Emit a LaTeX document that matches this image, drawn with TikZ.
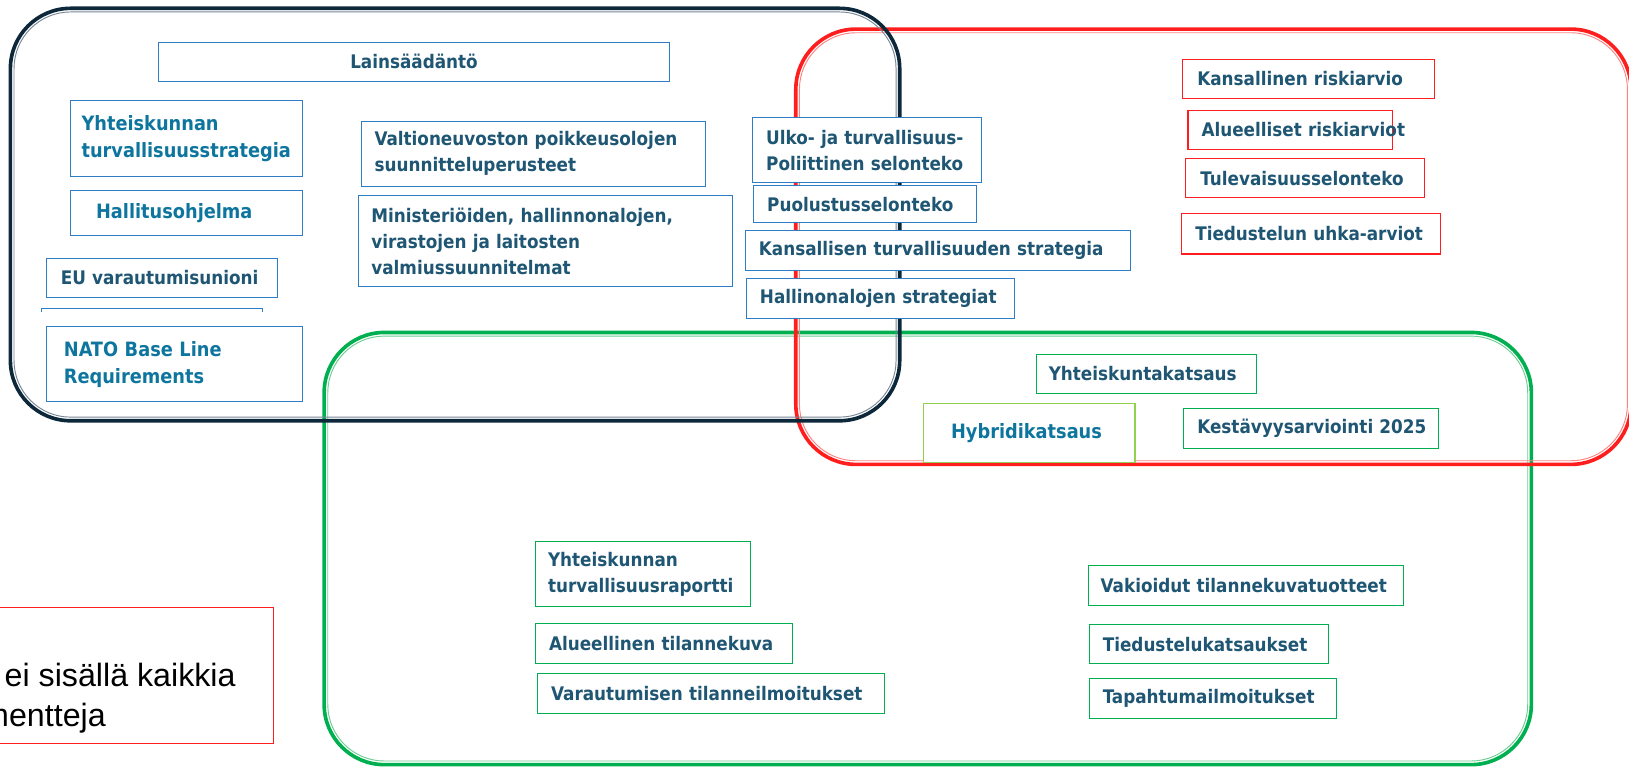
\documentclass[tikz,border=0pt]{standalone}
\usepackage{fontspec}
\newfontfamily\boxfont{DejaVu Sans Condensed}
\newfontfamily\arialf{Liberation Sans}
\definecolor{tdark}{RGB}{31,86,115}
\definecolor{tbright}{RGB}{14,118,158}
\definecolor{bluebox}{RGB}{46,125,196}
\definecolor{redbox}{RGB}{255,30,30}
\definecolor{greenbox}{RGB}{0,176,80}
\definecolor{lgreen}{RGB}{146,208,80}
\definecolor{frameblack}{RGB}{12,40,58}
\definecolor{frameblackin}{RGB}{120,135,150}
\definecolor{frameredin}{RGB}{255,130,130}
\definecolor{framegreenin}{RGB}{110,205,145}
\begin{document}
\begin{tikzpicture}[x=1pt,y=-1pt,
  bb/.style={draw=#1, line width=1pt, fill=white, anchor=north west, align=left,
    inner ysep=0pt, font=\boxfont\bfseries\fontsize{18}{25}\selectfont, text=tdark},
  bright/.style={text=tbright, font=\boxfont\bfseries\fontsize{19}{26}\selectfont},
  outerframe/.style={line width=3.5pt, rounded corners=58pt},
  innerframe/.style={line width=0.9pt, rounded corners=54.5pt}]
\useasboundingbox (0,0) rectangle (1568,739);
\clip (0,0) rectangle (1568,739);
\fill[white] (0,0) rectangle (1568,739);

% green frame
\draw[outerframe, draw=greenbox] (312,320) rectangle (1474,736);
\draw[innerframe, draw=framegreenin] (315.5,323.5) rectangle (1470.5,732.5);
% red frame
\draw[outerframe, draw=redbox] (766,28) rectangle (1570,447);
\draw[innerframe, draw=frameredin] (769.5,31.5) rectangle (1566.5,443.5);
% black frame
\draw[outerframe, draw=frameblack] (10,8) rectangle (866,405);
\draw[innerframe, draw=frameblackin] (13.5,11.5) rectangle (862.5,401.5);

% blue boxes
\node[bb=bluebox, align=center, minimum width=492pt, minimum height=38pt, inner xsep=11pt, text width=470pt] (lain) at (152,40) {Lains\"a\"ad\"ant\"o};
\node[bb=bluebox, bright, minimum width=224pt, minimum height=73pt, inner xsep=11pt, text width=202pt] (yts) at (67,96) {Yhteiskunnan\\turvallisuusstrategia};
\node[bb=bluebox, bright, minimum width=224pt, minimum height=43pt, inner xsep=25pt, text width=174pt] (hal) at (67,183) {Hallitusohjelma};
\node[bb=bluebox, minimum width=223pt, minimum height=38pt, inner xsep=14pt, text width=195pt] (eu) at (44,248) {EU~varautumisunioni};
\draw[bluebox, line width=1pt] (40,300) -- (40,297) coordinate (lt) -- (253,297) coordinate (rt) -- (253,300);
\node[bb=bluebox, bright, minimum width=247pt, minimum height=72pt, inner xsep=17pt, text width=213pt] (nato) at (44,314) {NATO~Base~Line\\Requirements};
\node[bb=bluebox, minimum width=332pt, minimum height=63pt, inner xsep=13pt, text width=306pt] (valt) at (347,116) {Valtioneuvoston~poikkeusolojen\\suunnitteluperusteet};
\node[bb=bluebox, minimum width=360pt, minimum height=87pt, inner xsep=12pt, text width=336pt] (min) at (345,188) {Ministeri\"oiden,~hallinnonalojen,\\virastojen~ja~laitosten\\valmiussuunnitelmat};
\node[bb=bluebox, minimum width=220pt, minimum height=62pt, inner xsep=13pt, text width=194pt] (ulko) at (724,113) {Ulko-~ja~turvallisuus-\\Poliittinen~selonteko};
\node[bb=bluebox, minimum width=214pt, minimum height=36pt, inner xsep=13pt, text width=188pt] (puol) at (725,178) {Puolustusselonteko};
\node[bb=bluebox, minimum width=371pt, minimum height=39pt, inner xsep=13pt, text width=345pt] (kts) at (717,221) {Kansallisen~turvallisuuden~strategia};
\node[bb=bluebox, minimum width=258pt, minimum height=38pt, inner xsep=13pt, text width=232pt] (hstr) at (718,268) {Hallinonalojen~strategiat};

% red boxes
\node[bb=redbox, minimum width=242pt, minimum height=37pt, inner xsep=14pt, text width=214pt] (kr) at (1138,57) {Kansallinen~riskiarvio};
\node[bb=redbox, minimum width=197pt, minimum height=37pt, inner xsep=13pt, text width=171pt] (ar) at (1143,106) {Alueelliset~riskiarviot};
\node[bb=redbox, minimum width=230pt, minimum height=38pt, inner xsep=14pt, text width=202pt] (tul) at (1141,152) {Tulevaisuusselonteko};
\node[bb=redbox, minimum width=249pt, minimum height=39pt, inner xsep=13pt, text width=223pt] (tied) at (1137,205) {Tiedustelun~uhka-arviot};

% green boxes
\node[bb=greenbox, minimum width=212pt, minimum height=37pt, inner xsep=12pt, text width=188pt] (ytk) at (997,341) {Yhteiskuntakatsaus};
\node[bb=lgreen, bright, minimum width=204pt, minimum height=57pt, inner xsep=27pt, text width=150pt] (hyb) at (888,388) {Hybridikatsaus};
\node[bb=greenbox, minimum width=245pt, minimum height=38pt, inner xsep=13pt, text width=219pt] (kest) at (1139,393) {Kest\"avyysarviointi~2025};
\node[bb=greenbox, minimum width=207pt, minimum height=62pt, inner xsep=12pt, text width=183pt] (ytr) at (515,521) {Yhteiskunnan\\turvallisuusraportti};
\node[bb=greenbox, minimum width=247pt, minimum height=38pt, inner xsep=13pt, text width=221pt] (alt) at (515,600) {Alueellinen~tilannekuva};
\node[bb=greenbox, minimum width=334pt, minimum height=38pt, inner xsep=13pt, text width=308pt] (var) at (517,648) {Varautumisen~tilanneilmoitukset};
\node[bb=greenbox, minimum width=303pt, minimum height=38pt, inner xsep=12pt, text width=279pt] (vak) at (1047,544) {Vakioidut~tilannekuvatuotteet};
\node[bb=greenbox, minimum width=230pt, minimum height=37pt, inner xsep=13pt, text width=204pt] (tk) at (1048,601) {Tiedustelukatsaukset};
\node[bb=greenbox, minimum width=238pt, minimum height=38pt, inner xsep=13pt, text width=212pt] (tap) at (1048,653) {Tapahtumailmoitukset};

% note box bottom left
\node[draw=redbox, line width=1.2pt, anchor=north west, minimum width=273pt, minimum height=131pt, inner sep=0pt] (note) at (-10,584) {};
\node[anchor=base east, inner sep=0pt, font=\arialf\fontsize{31}{38}\selectfont] (n1) at (227,661) {ei sis\"all\"a kaikkia};
\node[anchor=base east, inner sep=0pt, font=\arialf\fontsize{31}{38}\selectfont] (n2) at (102,699) {mentteja};
\end{tikzpicture}
\end{document}
